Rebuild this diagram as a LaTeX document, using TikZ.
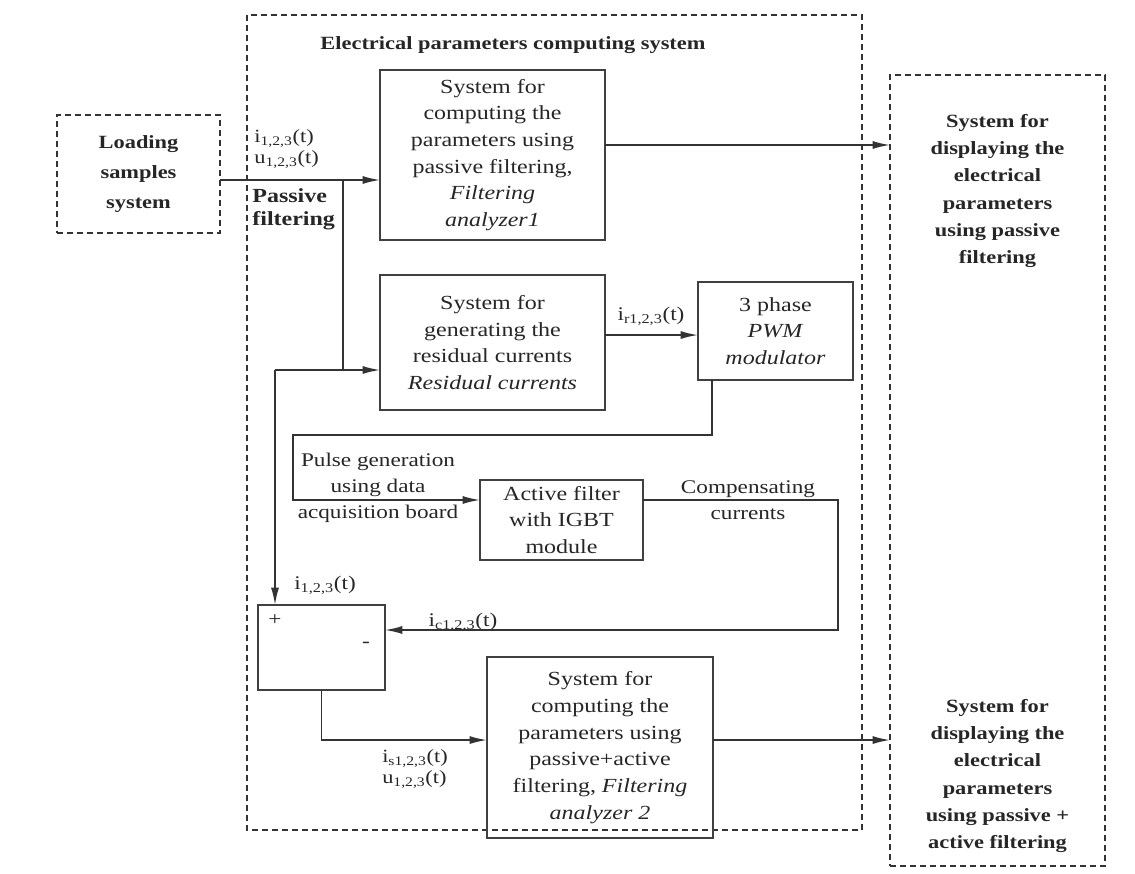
\documentclass[tikz,border=0pt]{standalone}
\usepackage{fontspec}
\setmainfont[FakeStretch=1.2]{Liberation Serif}
\usetikzlibrary{arrows.meta,positioning}

\begin{document}
\begin{tikzpicture}[x=0.75pt,y=-0.75pt,
    every node/.style={text=black!85, outer sep=0pt},
    blk/.style={draw=black!75, line width=1.3pt, align=center, inner sep=0pt,
        font=\fontsize{15}{20}\selectfont},
    dashbox/.style={draw=black!80, line width=1.3pt, dash pattern=on 4.5pt off 3pt},
    bold/.style={align=center, font=\fontsize{14}{20.5}\selectfont\bfseries},
    lbl/.style={inner sep=1pt, align=center, font=\fontsize{14.5}{19.5}\selectfont},
    sig/.style={inner sep=1pt, align=left, font=\fontsize{14}{16}\selectfont},
    wire/.style={draw=black!80, line width=1.2pt},
    arr/.style={wire, -{Latex[length=13pt,width=6pt]}}]

    \useasboundingbox (0,0) rectangle (1135,874);

    % Computing system
    \draw[dashbox] (247,15) rectangle (862,830);
    \node[bold] (title) at (513,45) {Electrical parameters computing system};

    % Loading samples
    \node[dashbox, bold, font=\fontsize{14}{22.5}\selectfont\bfseries, minimum width=122.25pt, minimum height=88.5pt] (loading) at (138.5,174) {Loading\\samples\\system};

    % Display
    \node[dashbox, minimum width=161.25pt, minimum height=593.25pt] (display) at (997.5,470.5) {};
    \node[bold] (disp1) at (997.5,191) {System for\\displaying the\\electrical\\parameters\\using passive\\filtering};
    \node[bold] (disp2) at (997.5,776) {System for\\displaying the\\electrical\\parameters\\using passive +\\active filtering};

    % Blocks
    \node[blk, minimum width=168.75pt, minimum height=127.5pt] (fa1) at (492.5,155) {System for\\computing the\\parameters using\\passive filtering,\\\textit{Filtering}\\\textit{analyzer1}};
    \node[blk, minimum width=168.75pt, minimum height=101.25pt] (resid) at (492.5,342.5) {System for\\generating the\\residual currents\\\textit{Residual currents}};
    \node[blk, minimum width=116.25pt, minimum height=73.5pt] (pwm) at (775.5,331) {3 phase\\\textit{PWM}\\\textit{modulator}};
    \node[blk, minimum width=122.25pt, minimum height=60pt] (actfilt) at (561.5,520) {Active filter\\with IGBT\\module};
    \node[blk, minimum width=95.25pt, minimum height=63.75pt] (sum) at (321.5,647.5) {};
    \node[blk, minimum width=169.5pt, minimum height=135.75pt] (fa2) at (600,747.5) {System for\\computing the\\parameters using\\passive+active\\filtering, \textit{Filtering}\\\textit{analyzer 2}};
    \node[lbl] (plus) at (275,620) {+};
    \node[lbl] (minus) at (366,645) {-};

    % Labels
    \node[sig, anchor=west] (iuin) at (253,149) {i\textsubscript{1,2,3}(t)\\u\textsubscript{1,2,3}(t)};
    \node[lbl, anchor=west, align=left, font=\fontsize{15}{17.5}\selectfont\bfseries] (pf) at (251,209) {Passive\\filtering};
    \node[lbl] (ir) at (651,316) {i\textsubscript{r1,2,3}(t)};
    \node[lbl] (pulse) at (378,488) {Pulse generation\\using data\\acquisition board};
    \node[lbl] (comp) at (748,500) {Compensating\\currents};
    \node[lbl] (ifb) at (325,585) {i\textsubscript{1,2,3}(t)};
    \node[lbl] (ic) at (463,622) {i\textsubscript{c1,2,3}(t)};
    \node[sig] (iuout) at (415,769) {i\textsubscript{s1,2,3}(t)\\u\textsubscript{1,2,3}(t)};

    % Connections
    \coordinate (split) at (343,180);
    \coordinate (join) at (343,370);
    \coordinate (fb) at (275,370);
    \draw[arr] (loading.east |- split) -- (fa1.west |- split);
    \draw[wire] (split) -- (join);
    \draw[arr] (fb) -- (resid.west |- fb);
    \draw[arr] (fb) -- (sum.north -| fb);

    \coordinate (o1) at ([yshift=7.5pt]fa1.east);
    \draw[arr] (o1) -- (o1 -| display.west);

    \coordinate (o2) at ([yshift=5.6pt]resid.east);
    \draw[arr] (o2) -- (o2 -| pwm.west);

    \coordinate (p1) at ([xshift=-47.6pt]pwm.south);
    \coordinate (pg) at (293,435);
    \coordinate (a1) at ([yshift=15pt]actfilt.west);
    \draw[arr] (p1) |- (pg) |- (a1);

    \coordinate (a2) at ([yshift=15pt]actfilt.east);
    \coordinate (cc) at (838,630);
    \draw[arr] (a2) -| (cc) -- (cc -| sum.east);

    \coordinate (s3) at ([yshift=5.6pt]fa2.west);
    \draw[arr] (sum.south) |- (s3);

    \coordinate (o3) at ([yshift=5.6pt]fa2.east);
    \draw[arr] (o3) -- (o3 -| display.west);
\end{tikzpicture}
\end{document}
